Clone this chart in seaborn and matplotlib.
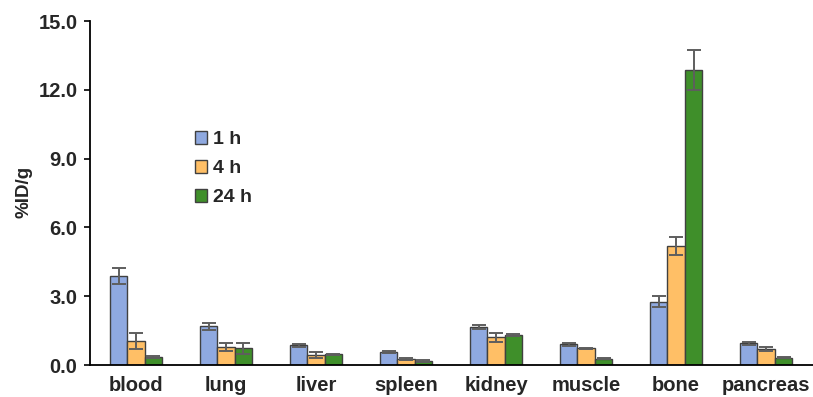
import matplotlib
matplotlib.use("Agg")
import matplotlib.pyplot as plt
import numpy as np
import pandas as pd
import seaborn as sns

organs = ["blood", "lung", "liver", "spleen", "kidney", "muscle", "bone", "pancreas"]
timepoints = ["1 h", "4 h", "24 h"]

mean_1h = [3.88, 1.68, 0.86, 0.57, 1.65, 0.90, 2.76, 0.95]
mean_4h = [1.05, 0.78, 0.44, 0.26, 1.20, 0.72, 5.19, 0.70]
mean_24h = [0.35, 0.72, 0.47, 0.17, 1.30, 0.27, 12.87, 0.32]

sd_1h = [0.35, 0.15, 0.07, 0.05, 0.10, 0.06, 0.25, 0.06]
sd_4h = [0.35, 0.17, 0.12, 0.06, 0.18, 0.03, 0.39, 0.08]
sd_24h = [0.05, 0.22, 0.03, 0.04, 0.05, 0.02, 0.87, 0.02]

yticks = [0.0, 3.0, 6.0, 9.0, 12.0, 15.0]

colors = ["#8FA9E0", "#FFBF66", "#3F8F2A"]

means = [mean_1h, mean_4h, mean_24h]
sds = [sd_1h, sd_4h, sd_24h]

df = pd.DataFrame({
    "organ": np.repeat([organs], 3, axis=0).ravel(),
    "time": np.repeat(timepoints, len(organs)),
    "value": np.concatenate(means),
})

sns.set_style("white")
plt.rcParams["font.family"] = ["Liberation Sans", "DejaVu Sans"]
plt.rcParams["font.weight"] = "bold"

fig = plt.figure(figsize=(8.13, 3.97), dpi=100)
ax = fig.add_axes([0.1107, 0.0806, 0.8893, 0.8665])

sns.barplot(data=df, x="organ", y="value", hue="time", order=organs,
            hue_order=timepoints, palette=colors, width=0.58, gap=0,
            errorbar=None, edgecolor="#404040", linewidth=1.0, ax=ax,
            saturation=1)

# error bars centred on each drawn bar
for cont, sd in zip(ax.containers, sds):
    xs = [p.get_x() + p.get_width() / 2 for p in cont.patches]
    hs = [p.get_height() for p in cont.patches]
    ax.errorbar(xs, hs, yerr=sd, fmt="none", ecolor="#5E5E5E",
                elinewidth=1.4, capsize=5, capthick=1.4, zorder=5)

ax.set_xlim(-0.51, 7.52)
ax.set_ylim(0, 15)
ax.set_yticks(yticks)
ax.set_yticklabels([f"{v:.1f}" for v in yticks])
ax.set_xlabel("")
ax.set_ylabel("%ID/g", fontsize=13.5, fontweight="bold")
ax.yaxis.set_label_coords(-0.080, 0.504)

for s in ["top", "right"]:
    ax.spines[s].set_visible(False)
for s in ["left", "bottom"]:
    ax.spines[s].set_color("black")
    ax.spines[s].set_linewidth(1.3)

ax.tick_params(axis="y", which="major", left=True, length=4, width=1.2,
               labelsize=14.5, pad=5, color="black")
ax.tick_params(axis="x", length=0, labelsize=14.5, pad=8)
for lab in ax.get_xticklabels() + ax.get_yticklabels():
    lab.set_fontweight("bold")

leg = ax.legend(loc="upper left", bbox_to_anchor=(0.134, 0.703), frameon=False,
                fontsize=14, handlelength=0.62, handleheight=0.62,
                handletextpad=0.3, labelspacing=0.62, borderaxespad=0)
for t in leg.get_texts():
    t.set_fontweight("bold")

fig.savefig("out.png", dpi=100)
